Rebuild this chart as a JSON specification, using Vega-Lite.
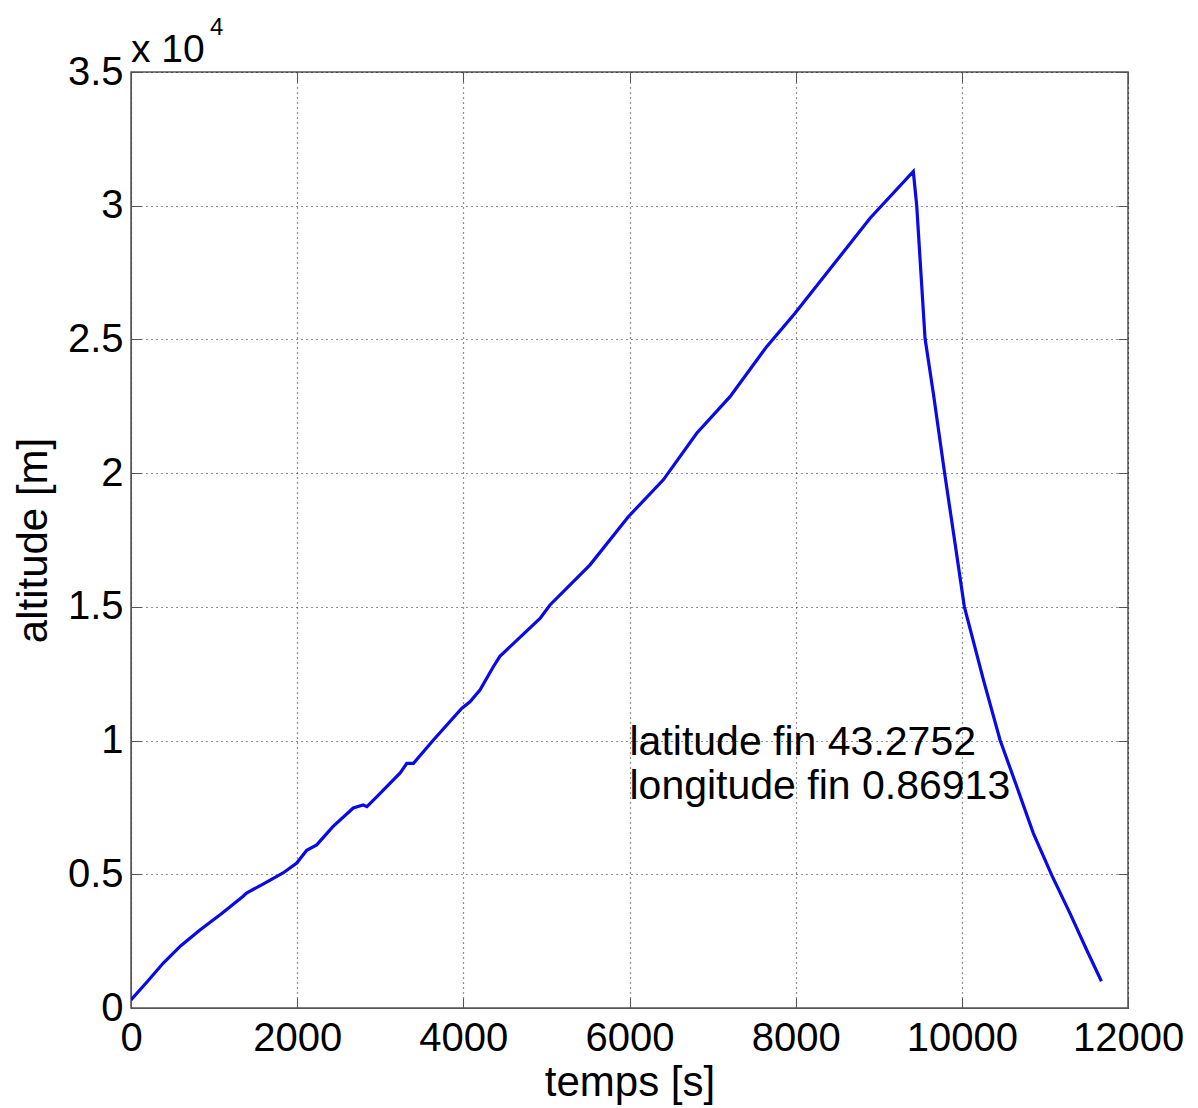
{
  "$schema": "https://vega.github.io/schema/vega-lite/v6.json",
  "autosize": "none",
  "width": 997,
  "height": 936,
  "padding": {"left": 131, "top": 72, "right": 70, "bottom": 100},
  "background": "white",
  "config": {
    "font": "Liberation Sans",
    "view": {"stroke": "#555555", "strokeWidth": 1.5},
    "axis": {
      "labelFont": "Liberation Sans",
      "titleFont": "Liberation Sans",
      "labelFontSize": 40,
      "titleFontSize": 42,
      "labelColor": "black",
      "titleColor": "black",
      "titleFontWeight": "normal",
      "domainColor": "#555555",
      "tickColor": "#555555",
      "gridColor": "black",
      "gridDash": [1, 4],
      "gridOpacity": 0.85,
      "gridWidth": 1.2
    }
  },
  "datasets": {
    "flight": [
      {"t": 0, "alt": 300},
      {"t": 200, "alt": 1000},
      {"t": 389, "alt": 1680},
      {"t": 600, "alt": 2330},
      {"t": 830, "alt": 2920},
      {"t": 1100, "alt": 3550},
      {"t": 1350, "alt": 4180},
      {"t": 1390, "alt": 4300},
      {"t": 1600, "alt": 4650},
      {"t": 1830, "alt": 5050},
      {"t": 1995, "alt": 5420},
      {"t": 2115, "alt": 5900},
      {"t": 2235, "alt": 6100},
      {"t": 2430, "alt": 6780},
      {"t": 2675, "alt": 7480},
      {"t": 2795, "alt": 7590},
      {"t": 2840, "alt": 7530},
      {"t": 2960, "alt": 7900},
      {"t": 3240, "alt": 8790},
      {"t": 3320, "alt": 9150},
      {"t": 3400, "alt": 9150},
      {"t": 3640, "alt": 10020},
      {"t": 3980, "alt": 11200},
      {"t": 4080, "alt": 11450},
      {"t": 4200, "alt": 11890},
      {"t": 4361, "alt": 12760},
      {"t": 4440, "alt": 13150},
      {"t": 4923, "alt": 14570},
      {"t": 5043, "alt": 15070},
      {"t": 5525, "alt": 16570},
      {"t": 5986, "alt": 18370},
      {"t": 6407, "alt": 19750},
      {"t": 6809, "alt": 21490},
      {"t": 7210, "alt": 22860},
      {"t": 7651, "alt": 24730},
      {"t": 7992, "alt": 25980},
      {"t": 8453, "alt": 27790},
      {"t": 8895, "alt": 29530},
      {"t": 9416, "alt": 31280},
      {"t": 9457, "alt": 30000},
      {"t": 9557, "alt": 25040},
      {"t": 9657, "alt": 22990},
      {"t": 9790, "alt": 20060},
      {"t": 9918, "alt": 17380},
      {"t": 10030, "alt": 15010},
      {"t": 10260, "alt": 12270},
      {"t": 10460, "alt": 10020},
      {"t": 10661, "alt": 8280},
      {"t": 10861, "alt": 6530},
      {"t": 11082, "alt": 4970},
      {"t": 11302, "alt": 3540},
      {"t": 11503, "alt": 2170},
      {"t": 11680, "alt": 1000}
    ],
    "notes": [
      {"t": 6000, "alt": 9460, "label": "latitude fin 43.2752"},
      {"t": 6000, "alt": 7830, "label": "longitude fin 0.86913"}
    ],
    "expo": [
      {"t": 0, "alt": 35000, "label": "x 10"},
      {"t": 0, "alt": 35000, "label": "4"}
    ]
  },
  "resolve": {"axis": {"x": "independent", "y": "independent"}},
  "layer": [
    {
      "data": {"name": "flight"},
      "mark": {"type": "line", "color": "#0a0ae6", "strokeWidth": 3.2, "clip": true},
      "encoding": {
        "x": {
          "field": "t", "type": "quantitative",
          "scale": {"domain": [0, 12000], "nice": false, "zero": false},
          "axis": {
            "title": "temps [s]",
            "values": [0, 2000, 4000, 6000, 8000, 10000, 12000],
            "format": "d",
            "grid": true,
            "tickSize": -10,
            "labelPadding": 20,
            "titlePadding": 4,
            "labelFlush": false,
            "labelOverlap": false
          }
        },
        "y": {
          "field": "alt", "type": "quantitative",
          "scale": {"domain": [0, 35000], "nice": false, "zero": false},
          "axis": {
            "title": "altitude [m]",
            "values": [0, 5000, 10000, 15000, 20000, 25000, 30000, 35000],
            "labelExpr": "datum.value / 10000",
            "grid": true,
            "tickSize": -10,
            "labelPadding": 18,
            "titlePadding": 12,
            "labelFlush": false,
            "labelOverlap": false
          }
        }
      }
    },
    {
      "data": {"name": "flight"},
      "mark": {"type": "line", "opacity": 0},
      "encoding": {
        "x": {
          "field": "t", "type": "quantitative",
          "axis": {"orient": "top", "title": null, "labels": false, "grid": false, "domain": false, "tickSize": -10, "values": [0, 2000, 4000, 6000, 8000, 10000, 12000]}
        },
        "y": {
          "field": "alt", "type": "quantitative",
          "axis": {"orient": "right", "title": null, "labels": false, "grid": false, "domain": false, "tickSize": -10, "values": [0, 5000, 10000, 15000, 20000, 25000, 30000, 35000]}
        }
      }
    },
    {
      "data": {"name": "notes"},
      "mark": {"type": "text", "align": "left", "baseline": "alphabetic", "fontSize": 41, "font": "Liberation Sans", "color": "black"},
      "encoding": {
        "x": {"field": "t", "type": "quantitative", "axis": null},
        "y": {"field": "alt", "type": "quantitative", "axis": null},
        "text": {"field": "label"}
      }
    },
    {
      "data": {"name": "expo"},
      "transform": [{"filter": "datum.label == 'x 10'"}],
      "mark": {"type": "text", "align": "left", "baseline": "alphabetic", "fontSize": 39, "font": "Liberation Sans", "color": "black", "dx": 0, "dy": -10},
      "encoding": {
        "x": {"field": "t", "type": "quantitative", "axis": null},
        "y": {"field": "alt", "type": "quantitative", "axis": null},
        "text": {"field": "label"}
      }
    },
    {
      "data": {"name": "expo"},
      "transform": [{"filter": "datum.label == '4'"}],
      "mark": {"type": "text", "align": "left", "baseline": "alphabetic", "fontSize": 24, "font": "Liberation Sans", "color": "black", "dx": 79, "dy": -37},
      "encoding": {
        "x": {"field": "t", "type": "quantitative", "axis": null},
        "y": {"field": "alt", "type": "quantitative", "axis": null},
        "text": {"field": "label"}
      }
    }
  ]
}
